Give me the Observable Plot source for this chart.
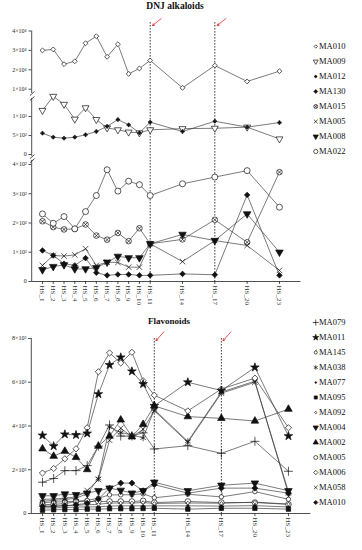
<!DOCTYPE html>
<html><head><meta charset="utf-8">
<script src="https://cdn.jsdelivr.net/npm/d3@7"></script>
<script src="https://cdn.jsdelivr.net/npm/@observablehq/plot@0.6"></script>
<style>
body{margin:0;background:#fff;}
#c{position:relative;width:362px;height:550px;overflow:hidden;font-family:"Liberation Serif",serif;}
#c svg{position:absolute;left:0;top:0;}
.ttl{position:absolute;font-family:"Liberation Serif",serif;font-weight:bold;color:#111;white-space:nowrap;transform:translateX(-50%);}
</style></head><body><div id="c">
<div class="ttl" style="left:175px;top:1px;font-size:9.5px;">DNJ alkaloids</div>
<div class="ttl" style="left:169px;top:316px;font-size:9px;">Flavonoids</div>
</div>
<script>
// ---------- data ----------
const samples = [1,2,3,4,5,6,7,8,9,10,11,14,17,20,23];
const sampleLabels = samples.map(n => "HS_" + n);

// DNJ alkaloids
const dnjNames = ["MA010","MA009","MA012","MA130","MA015","MA005","MA008","MA022"];
const dnj_MA010 = [30000,30500,22900,24400,33700,37300,26700,33200,17900,20700,24800,10700,22200,14000,19300];
const dnj_MA009 = [1160,1530,1320,930,1230,920,700,650,590,570,650,680,690,720,410];
const dnj_MA012 = [560,455,430,455,520,605,740,920,780,570,850,605,875,720,840];
const dnj_MA130 = [106,89,61,55,80,30,21,24,24,21,21,26,23,296,21];
const dnj_MA015 = [206,186,178,180,195,157,143,166,138,182,129,144,211,134,374];
const dnj_MA005 = [55,89,87,91,112,55,66,65,49,49,129,68,140,123,38];
const dnj_MA008 = [40,51,57,43,43,47,66,86,81,81,129,161,140,231,100];
const dnj_MA022 = [231,199,222,180,239,294,382,309,343,331,294,334,357,379,254];

// Flavonoids
const flaNames = ["MA079","MA011","MA145","MA038","MA077","MA095","MA092","MA004","MA002","MA005","MA006","MA058","MA010"];
const fla_MA079 = [1430,1600,1960,1960,2190,3080,4050,3540,3540,3690,2950,3100,2750,3300,1930];
const fla_MA011 = [3570,3080,3620,3590,3660,5460,6790,7140,6500,5920,4920,6000,5620,6680,3540];
const fla_MA145 = [500,520,540,560,600,700,850,850,860,900,720,880,760,1000,650];
const fla_MA038 = [560,600,640,700,900,1600,3950,3700,3600,3450,4750,3300,5550,6050,900];
const fla_MA077 = [260,260,270,300,300,310,340,350,350,350,350,350,340,360,300];
const fla_MA095 = [150,170,180,180,200,200,220,220,220,230,240,200,240,240,200];
const fla_MA092 = [330,340,360,380,400,420,480,480,480,500,460,480,470,520,430];
const fla_MA004 = [810,810,890,860,930,1040,1160,1060,930,1040,1430,1040,1290,1390,1040];
const fla_MA002 = [2960,2620,2850,2570,2010,3080,3540,4280,3510,4080,4920,4430,4350,4230,4770];
const fla_MA005 = [400,420,450,550,550,550,550,550,550,580,500,550,500,500,420];
const fla_MA006 = [1850,2060,2500,2960,3920,6480,7340,6880,7370,6070,5410,4690,5690,6190,3920];
const fla_MA058 = [650,660,700,760,1050,1550,3350,3900,3500,3850,4700,3250,5500,6000,1000];
const fla_MA010 = [330,330,350,400,470,660,1160,1390,1390,1040,1320,930,1160,1160,930];

// tick values and labels
const ticksA = [10000,20000,30000,40000];
const labelsA = ["1×10⁴","2×10⁴","3×10⁴","4×10⁴"];
const ticksB = [0,500,1000];
const labelsB = ["0","5×10²","1×10³"];
const ticksC = [0,100,200,300,400];
const labelsC = ["0","1×10²","2×10²","3×10²","4×10²"];
const ticksD = [0,2000,4000,6000,8000];
const labelsD = ["0","2×10³","4×10³","6×10³","8×10³"];
const markedSamples = [11,17];

// ---------- symbols ----------
const triDown = {draw(ctx, size){ const y = -Math.sqrt(size/(Math.sqrt(3)*3)); ctx.moveTo(0,-y*2); ctx.lineTo(-Math.sqrt(3)*y, y); ctx.lineTo(Math.sqrt(3)*y, y); ctx.closePath(); }};
const circleX = {draw(ctx, size){ const r = Math.sqrt(size/Math.PI); ctx.moveTo(r,0); ctx.arc(0,0,r,0,2*Math.PI); const k = r*0.7; ctx.moveTo(-k,-k); ctx.lineTo(k,k); ctx.moveTo(-k,k); ctx.lineTo(k,-k); }};
const circleTick = {draw(ctx, size){ const r = Math.sqrt(size/Math.PI); ctx.moveTo(r,0); ctx.arc(0,0,r,0,2*Math.PI); ctx.moveTo(0,-r); ctx.lineTo(r*0.5,-r*1.9); }};

const dnjStyle = {
  MA010:{sym:"diamond2", r:2.2, fill:"white"},
  MA009:{sym:triDown, r:2.6, fill:"white"},
  MA012:{sym:"cross", r:1.5, fill:"#111"},
  MA130:{sym:"diamond2", r:2.5, fill:"#111"},
  MA015:{sym:circleX, r:2.8, fill:"white"},
  MA005:{sym:"times", r:2.6, fill:"none"},
  MA008:{sym:triDown, r:2.8, fill:"#111"},
  MA022:{sym:"circle", r:3.0, fill:"white"}
};
const flaStyle = {
  MA079:{sym:"plus", r:3.0, fill:"none"},
  MA011:{sym:"star", r:2.7, fill:"#111"},
  MA145:{sym:circleTick, r:2.2, fill:"white"},
  MA038:{sym:"asterisk", r:3.0, fill:"none"},
  MA077:{sym:"circle", r:1.2, fill:"#111"},
  MA095:{sym:"square", r:2.5, fill:"#111"},
  MA092:{sym:"diamond2", r:1.6, fill:"white"},
  MA004:{sym:triDown, r:2.8, fill:"#111"},
  MA002:{sym:"triangle", r:2.8, fill:"#111"},
  MA005:{sym:"circle", r:2.8, fill:"white"},
  MA006:{sym:"diamond2", r:2.8, fill:"white"},
  MA058:{sym:"times", r:2.6, fill:"none"},
  MA010:{sym:"diamond2", r:2.7, fill:"#111"}
};
const dnjVals = {MA010:dnj_MA010,MA009:dnj_MA009,MA012:dnj_MA012,MA130:dnj_MA130,MA015:dnj_MA015,MA005:dnj_MA005,MA008:dnj_MA008,MA022:dnj_MA022};
const flaVals = {MA079:fla_MA079,MA011:fla_MA011,MA145:fla_MA145,MA038:fla_MA038,MA077:fla_MA077,MA095:fla_MA095,MA092:fla_MA092,MA004:fla_MA004,MA002:fla_MA002,MA005:fla_MA005,MA006:fla_MA006,MA058:fla_MA058,MA010:fla_MA010};

// ---------- helpers ----------
const root = document.getElementById("c");
const FONT = "Liberation Serif";
const INK = "#222";
function panel({yDomain, yTop, yBot, ml, mr, marks, yType}) {
  const svg = Plot.plot({
    width: 362, height: 550,
    marginLeft: ml, marginRight: mr, marginTop: yTop, marginBottom: 550 - yBot,
    x: {domain: [0, 25], axis: null},
    y: yType ? {type: yType, domain: yDomain, padding: 0, axis: null} : {domain: yDomain, axis: null},
    style: {background: "transparent", overflow: "visible"},
    marks
  });
  root.appendChild(svg);
}
function table(vals){ return samples.map((x,i)=>({x, v: vals[i]})); }
function seriesMarks(names, vals, styles){
  const lines = names.map(n => Plot.line(table(vals[n]), {x:"x", y:"v", stroke:"#333", strokeWidth:0.65}));
  const dots = names.map(n => Plot.dot(table(vals[n]), {x:"x", y:"v", symbol:styles[n].sym, r:styles[n].r, fill:styles[n].fill, stroke:"#111", strokeWidth:0.7}));
  return [...lines, ...dots];
}
function yAxisMarks(ticks, labels, y1, y2){
  const t = ticks.map((v,i)=>({v, t: labels[i]}));
  return [
    Plot.ruleX([0], {y1, y2, stroke: INK, strokeWidth: 0.8}),
    Plot.ruleY(t, {y:"v", x1:-0.25, x2:0, stroke: INK, strokeWidth: 0.8}),
    Plot.text(t, {x:0, y:"v", text:"t", dx:-5, textAnchor:"end", fontSize:6, fontFamily:FONT, fill:INK})
  ];
}
function xAxisMarks(tickLen){
  return [
    Plot.ruleY([0], {x1:0, x2:25, stroke: INK, strokeWidth: 0.8}),
    Plot.ruleX(samples, {x: d=>d, y1:0, y2:-tickLen, stroke: INK, strokeWidth: 0.8}),
    Plot.text(samples, {x: d=>d, y:0, text: d=>"HS_"+d, rotate:90, textAnchor:"start", dy:4, fontSize:7, fontFamily:FONT, fill:"#333"})
  ];
}
const TOP_ML = 31.2, TOP_MR = 61.5, BOT_ML = 30.8, BOT_MR = 51.7;

// dashed reference lines (top chart, full height)
panel({yDomain:[0,1], yTop:22, yBot:281, ml:TOP_ML, mr:TOP_MR, marks:[
  Plot.ruleX(markedSamples, {x:d=>d, stroke:"#111", strokeWidth:0.8, strokeDasharray:"1.6,1.4"})
]});

// top segment (x10^4)
panel({yDomain:[10000,40000], yTop:30.5, yBot:88.7, ml:TOP_ML, mr:TOP_MR, marks:[
  ...yAxisMarks(ticksA, labelsA, 7800, 40000),
  ...seriesMarks(["MA010"], dnjVals, dnjStyle),
  Plot.arrow(markedSamples, {x1:d=>d+1.02, x2:d=>d+0.22, y1:46400, y2:42800, stroke:"#e8262a", strokeWidth:0.8, headLength:4})
]});

// middle segment (0..1e3)
panel({yDomain:[0,1000], yTop:116, yBot:154, ml:TOP_ML, mr:TOP_MR, marks:[
  ...yAxisMarks(ticksB, labelsB, -50, 1474),
  Plot.link([0,1], {x1:-0.16, x2:0.26, y1:i=>1553-i*130, y2:i=>1658-i*130, stroke:INK, strokeWidth:0.8}),
  ...seriesMarks(["MA009","MA012"], dnjVals, dnjStyle)
]});

// bottom segment (0..4e2)
panel({yDomain:[0,400], yTop:164, yBot:281, ml:TOP_ML, mr:TOP_MR, marks:[
  ...yAxisMarks(ticksC, labelsC, 0, 414),
  Plot.link([0,1], {x1:-0.16, x2:0.26, y1:i=>420-i*14, y2:i=>434-i*14, stroke:INK, strokeWidth:0.8}),
  ...xAxisMarks(10),
  ...seriesMarks(["MA015","MA022","MA005","MA008","MA130"], dnjVals, dnjStyle)
]});

// flavonoids
panel({yDomain:[0,8000], yTop:338, yBot:513, ml:BOT_ML, mr:BOT_MR, marks:[
  Plot.ruleX(markedSamples, {x:d=>d, stroke:"#111", strokeWidth:0.8, strokeDasharray:"1.6,1.4"}),
  ...yAxisMarks(ticksD, labelsD, 0, 8000),
  ...xAxisMarks(140),
  ...seriesMarks(["MA005","MA095","MA077","MA092","MA145","MA010","MA004","MA058","MA038","MA079","MA002","MA006","MA011"], flaVals, flaStyle),
  Plot.arrow(markedSamples, {x1:d=>d+0.85, x2:d=>d+0.15, y1:8300, y2:7900, stroke:"#e8262a", strokeWidth:0.8, headLength:4})
]});

// legends
function legend(names, styles, yTop, yBot){
  panel({yType:"point", yDomain:names, yTop, yBot, ml:315, mr:34, marks:[
    Plot.ruleY(names, {y:d=>d, x1:0, x2:1, stroke:"#333", strokeWidth:0.7}),
    ...names.map(n => Plot.dot([n], {x:0.5, y:d=>d, symbol:styles[n].sym, r:styles[n].r*0.7, fill:styles[n].fill, stroke:"#111", strokeWidth:0.7})),
    Plot.text(names, {x:1, y:d=>d, text:d=>d, dx:3, textAnchor:"start", fontSize:8.5, fontFamily:FONT, fill:"#111"})
  ]});
}
legend(dnjNames, dnjStyle, 45, 151);
legend(flaNames, flaStyle, 322, 502);
</script>
</body></html>
